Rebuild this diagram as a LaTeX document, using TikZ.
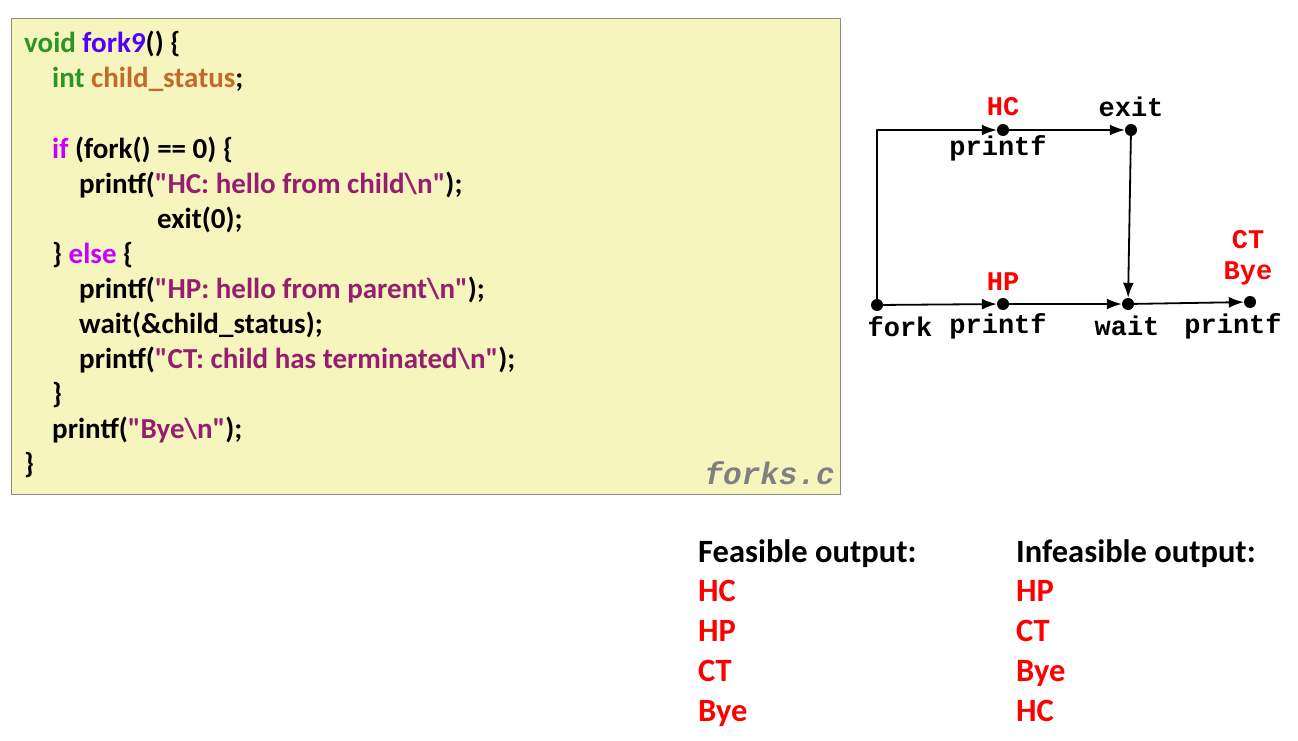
\documentclass[tikz,border=0pt]{standalone}
\usepackage{xcolor}
\usepackage{fontspec}
\usetikzlibrary{arrows.meta}
\setmainfont{Carlito}[Ligatures=TeXOff]
\newfontfamily\courierbf{Liberation Mono}[BoldFont=* Bold]

\definecolor{codebg}{HTML}{F7F5BE}
\definecolor{codeframe}{HTML}{8C8C7A}
\definecolor{kwgreen}{HTML}{2B9526}
\definecolor{fnblue}{HTML}{5000FF}
\definecolor{varbrown}{HTML}{C46A28}
\definecolor{kwpurple}{HTML}{C800FF}
\definecolor{strcol}{HTML}{961E6E}

\begin{document}
\begin{tikzpicture}[x=1pt, y=-1pt, line cap=round, line join=round,
		codeline/.style={anchor=base west, inner sep=0pt, font=\fontsize{29}{32}\selectfont\bfseries},
		outline/.style={anchor=base west, inner sep=0pt, font=\fontsize{32.5}{36}\selectfont\bfseries},
		lbl/.style={inner sep=0pt, font=\courierbf\fontsize{27}{30}\selectfont\bfseries},
		evt/.style={circle, fill=black, inner sep=0pt, minimum size=12pt},
		flow/.style={-{Latex[length=15pt,width=11pt]}, line width=1.8pt}]
		
		\useasboundingbox (0,0) rectangle (1298,741);
		
		% Code box
		\draw[codeframe, fill=codebg, line width=0.8pt] (11,18) rectangle (840,494);
		\node[codeline] (l1) at (24,53) {\textcolor{kwgreen}{void} \textcolor{fnblue}{fork9}() \{};
		\node[codeline] (l2) at (52,88) {\textcolor{kwgreen}{int} \textcolor{varbrown}{child\_status};};
		\node[codeline] (l3) at (52,158) {\textcolor{kwpurple}{if} (fork() == 0) \{};
		\node[codeline] (l4) at (79,193) {printf(\textcolor{strcol}{"HC: hello from child\textbackslash n"});};
		\node[codeline] (l5) at (157,228) {exit(0);};
		\node[codeline] (l6) at (52,263) {\} \textcolor{kwpurple}{else} \{};
		\node[codeline] (l7) at (79,298) {printf(\textcolor{strcol}{"HP: hello from parent\textbackslash n"});};
		\node[codeline] (l8) at (79,333) {wait(\&child\_status);};
		\node[codeline] (l9) at (79,368) {printf(\textcolor{strcol}{"CT: child has terminated\textbackslash n"});};
		\node[codeline] (l10) at (52,403) {\}};
		\node[codeline] (l11) at (52,438) {printf(\textcolor{strcol}{"Bye\textbackslash n"});};
		\node[codeline] (l12) at (24,473) {\}};
		\node[anchor=base east, inner sep=0pt, text=gray, font=\courierbf\fontsize{31}{34}\selectfont\bfseries\itshape] (fname) at (835,484) {forks.c};
		
		% Process graph
		\node[evt] (fork) at (877,305) {};
		\node[evt] (hp) at (1003,304) {};
		\node[evt] (wait) at (1128,304) {};
		\node[evt] (bye) at (1250,302) {};
		\node[evt] (hc) at (1003,130) {};
		\node[evt] (exit) at (1131,130) {};
		\coordinate (corner) at (877,130);
		
		\draw[flow] (fork.center) -- (corner) -- (hc);
		\draw[flow] (hc) -- (exit);
		\draw[flow] (exit.center) -- (wait);
		\draw[flow] (fork) -- (hp);
		\draw[flow] (hp) -- (wait);
		\draw[flow] (wait) -- (bye);
		
		% Labels
		\node[lbl, text=red] (hctxt) at (1003,107) {HC};
		\node[lbl] (hclbl) at (998,148) {printf};
		\node[lbl] (exitlbl) at (1131,107) {exit};
		\node[lbl, text=red] (hptxt) at (1003,282) {HP};
		\node[lbl] (forklbl) at (900,327) {fork};
		\node[lbl] (hplbl) at (998,326) {printf};
		\node[lbl] (waitlbl) at (1127,326) {wait};
		\node[lbl] (byelbl) at (1233,326) {printf};
		\node[lbl, text=red] (cttxt) at (1248,240) {CT};
		\node[lbl, text=red] (byetxt) at (1248,273) {Bye};
		
		% Outputs
		\node[outline] (feas) at (698,562) {Feasible output:};
		\node[outline, text=red] (f1) at (698,601) {HC};
		\node[outline, text=red] (f2) at (698,641) {HP};
		\node[outline, text=red] (f3) at (698,681) {CT};
		\node[outline, text=red] (f4) at (698,721) {Bye};
		\node[outline] (infeas) at (1016,562) {Infeasible output:};
		\node[outline, text=red] (i1) at (1016,601) {HP};
		\node[outline, text=red] (i2) at (1016,641) {CT};
		\node[outline, text=red] (i3) at (1016,681) {Bye};
		\node[outline, text=red] (i4) at (1016,721) {HC};
		
	\end{tikzpicture}
\end{document}
